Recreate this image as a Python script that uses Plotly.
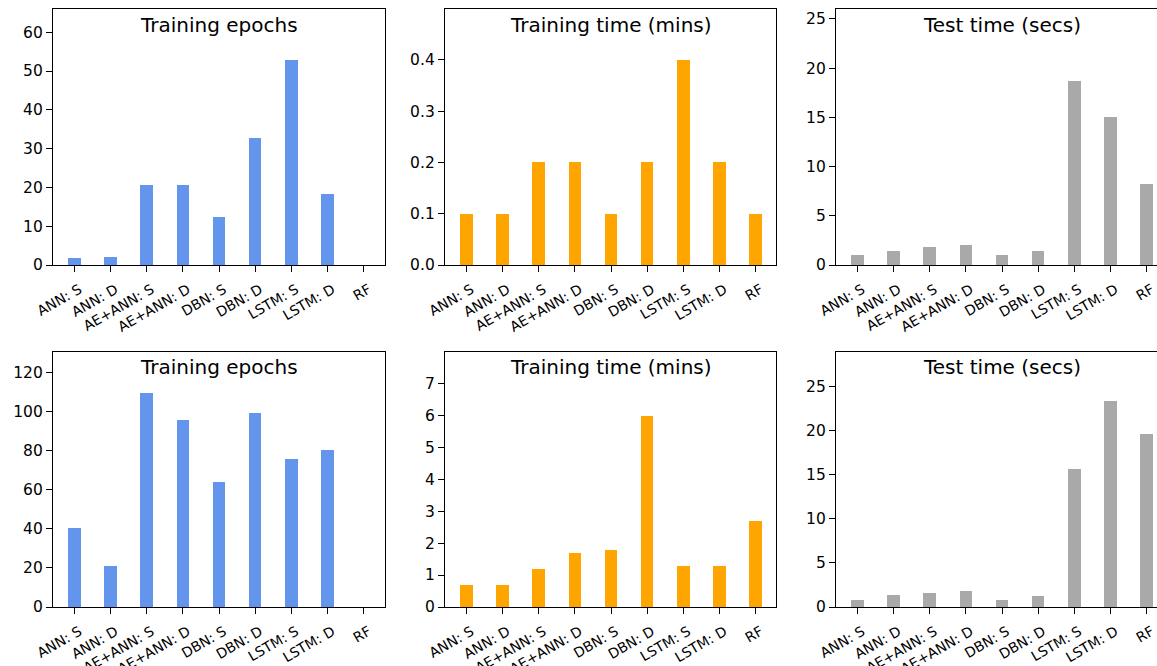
import plotly.graph_objects as go

# Model variants shown on every panel
models = ["ANN: S", "ANN: D", "AE+ANN: S", "AE+ANN: D", "DBN: S",
          "DBN: D", "LSTM: S", "LSTM: D", "RF"]

# Upper row of panels
epochs_top = [1.8, 2.1, 20.7, 20.7, 12.4, 32.8, 52.8, 18.3, 0]
train_mins_top = [0.1, 0.1, 0.2, 0.2, 0.1, 0.2, 0.4, 0.2, 0.1]
test_secs_top = [1.0, 1.42, 1.83, 2.03, 1.0, 1.42, 18.7, 15.04, 8.23]

# Lower row of panels
epochs_bottom = [40.5, 21.0, 109.7, 95.9, 64.1, 99.5, 75.9, 80.5, 0]
train_mins_bottom = [0.7, 0.7, 1.2, 1.7, 1.8, 6.0, 1.3, 1.3, 2.7]
test_secs_bottom = [0.8, 1.36, 1.6, 1.82, 0.8, 1.25, 15.7, 23.4, 19.66]

panel_titles = ["Training epochs", "Training time (mins)", "Test time (secs)"]
bar_colors = ["#6495ED", "#FFA500", "#A9A9A9"]

W, H = 1157, 666
FONT = "DejaVu Sans"

# panel geometry in pixels: column x-extents, row y-extents (from top)
cols_px = [(53, 385), (445, 776), (836, 1157)]
rows_px = [(9, 265), (351.7, 607)]
px_per_unit = 332 / 9.18

rows_data = [
    [epochs_top, train_mins_top, test_secs_top],
    [epochs_bottom, train_mins_bottom, test_secs_bottom],
]
y_ranges = [
    [(0, 66), (0, 0.499), (0, 26)],
    [(0, 130.9), (0, 7.99), (0, 29)],
]
y_dticks = [
    [10, 0.1, 5],
    [20, 1, 5],
]
y_formats = [
    ["d", ".1f", "d"],
    ["d", "d", "d"],
]

fig = go.Figure()
annotations = []
idx = 0
for r in range(2):
    for c in range(3):
        idx += 1
        sfx = "" if idx == 1 else str(idx)
        fig.add_trace(go.Bar(
            x=models, y=rows_data[r][c], width=0.35,
            marker=dict(color=bar_colors[c], line=dict(width=0)),
            xaxis="x" + sfx, yaxis="y" + sfx, showlegend=False,
        ))
        x0, x1 = cols_px[c]
        ytop, ybot = rows_px[r]
        x_hi = -0.59 + (x1 - x0) / px_per_unit
        clipped = c == 2
        fig.layout["xaxis" + sfx] = dict(
            domain=[x0 / W, x1 / W], anchor="y" + sfx, type="category",
            range=[-0.59, x_hi], showline=True, linecolor="black",
            linewidth=1.3, mirror=True, ticks="outside", ticklen=6,
            tickwidth=1.3, tickcolor="black", tickangle=-30,
            tickfont=dict(family=FONT, size=14, color="black"),
            ticklabelshift=5, ticklabelstandoff=4,
            showgrid=False, zeroline=False, fixedrange=True,
            automargin=False,
        )
        fig.layout["yaxis" + sfx] = dict(
            domain=[1 - ybot / H, 1 - ytop / H], anchor="x" + sfx,
            range=list(y_ranges[r][c]), dtick=y_dticks[r][c], tick0=0,
            tickformat=y_formats[r][c], showline=True, linecolor="black",
            linewidth=1.3, mirror=not clipped, ticks="outside", ticklen=6,
            tickwidth=1.3, tickcolor="black",
            tickfont=dict(family=FONT, size=15.5, color="black"),
            showgrid=False, zeroline=False, fixedrange=True,
            automargin=False,
        )
        annotations.append(dict(
            text=panel_titles[c], xref="paper", yref="paper",
            x=(x0 + (x0 + (9.18 * px_per_unit))) / 2 / W,
            y=1 - (ytop + 15.7) / H, xanchor="center", yanchor="middle",
            showarrow=False, font=dict(family=FONT, size=20, color="black"),
        ))

fig.update_layout(
    width=W, height=H, margin=dict(l=0, r=0, t=0, b=0),
    paper_bgcolor="white", plot_bgcolor="white",
    font=dict(family=FONT, color="black"),
    annotations=annotations, bargap=0,
)

fig.write_html("out.html")
